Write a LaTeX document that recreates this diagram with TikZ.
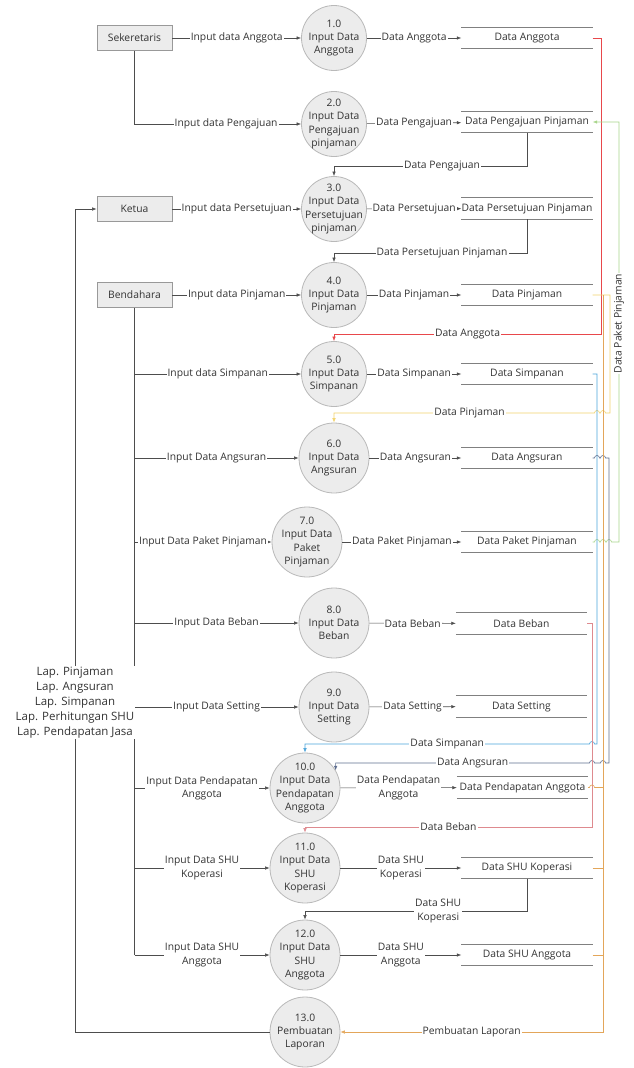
\documentclass[tikz,border=0pt]{standalone}
\usepackage{fontspec}
\setmainfont{Open Sans}
\usetikzlibrary{arrows.meta}

\definecolor{txt}{HTML}{333333}
\definecolor{ln}{HTML}{4D4D4D}
\definecolor{redln}{HTML}{E8474B}
\definecolor{pinkln}{HTML}{DE8A8F}
\definecolor{greenln}{HTML}{A8D58A}
\definecolor{yellowln}{HTML}{F2D36B}
\definecolor{blueln}{HTML}{4BA3D9}
\definecolor{navyln}{HTML}{5E6E8F}
\definecolor{orangeln}{HTML}{E3A65A}

\tikzset{
  entity/.style={draw=gray!80, fill=gray!15, line width=0.8pt, minimum width=75pt, minimum height=25pt, inner sep=0pt},
  proc/.style={circle, draw=gray!55, fill=gray!15, line width=0.8pt, minimum size=65pt, inner sep=-10pt, align=center},
  bigproc/.style={proc, minimum size=70pt},
  store/.style={minimum width=131pt, minimum height=21pt, inner sep=0pt},
  storeline/.style={draw=gray, line width=0.8pt},
  line/.style={draw=ln, line width=0.6pt},
  flow/.style={line, -{Latex[length=4.5pt,width=3.5pt]}},
  lbl/.style={fill=white, inner sep=1pt, align=center, text=txt},
}

\begin{document}
\begin{tikzpicture}[x=1pt, y=-1pt, font=\fontsize{10.3}{13.3}\selectfont, text=txt]
  \useasboundingbox (0,0) rectangle (634,1068);

  % external entities
  \node[entity] (sek) at (134.5,38) {Sekeretaris};
  \node[entity] (ketua) at (134.5,209) {Ketua};
  \node[entity] (bend) at (134.5,295) {Bendahara};

  % processes
  \node[proc] (p1) at (334,38) {1.0\\Input Data\\Anggota};
  \node[proc] (p2) at (334,124) {2.0\\Input Data\\Pengajuan\\pinjaman};
  \node[proc] (p3) at (334,209) {3.0\\Input Data\\Persetujuan\\pinjaman};
  \node[proc] (p4) at (334,295) {4.0\\Input Data\\Pinjaman};
  \node[proc] (p5) at (334,374) {5.0\\Input Data\\Simpanan};
  \node[bigproc] (p6) at (334,458) {6.0\\Input Data\\Angsuran};
  \node[bigproc] (p7) at (307,542) {7.0\\Input Data\\Paket\\Pinjaman};
  \node[bigproc] (p8) at (334,623) {8.0\\Input Data\\Beban};
  \node[bigproc] (p9) at (334,707) {9.0\\Input Data\\Setting};
  \node[bigproc] (p10) at (305,788) {10.0\\Input Data\\Pendapatan\\Anggota};
  \node[bigproc] (p11) at (305,868) {11.0\\Input Data\\SHU\\Koperasi};
  \node[bigproc] (p12) at (305,955) {12.0\\Input Data\\SHU\\Anggota};
  \node[bigproc] (p13) at (305,1032) {13.0\\Pembuatan\\Laporan};

  % data stores
  \node[store] (sa) at (527,38) {Data Anggota};
  \node[store] (sp) at (527,122) {Data Pengajuan Pinjaman};
  \node[store] (sps) at (527,208.5) {Data Persetujuan Pinjaman};
  \node[store] (spj) at (527,295) {Data Pinjaman};
  \node[store] (ssi) at (527,374) {Data Simpanan};
  \node[store] (san) at (527,458) {Data Angsuran};
  \node[store] (spk) at (527,542) {Data Paket Pinjaman};
  \node[store] (sbe) at (521.5,623.5) {Data Beban};
  \node[store] (sse) at (521.5,706.5) {Data Setting};
  \node[store] (spa) at (522.5,787.5) {Data Pendapatan Anggota};
  \node[store] (ssk) at (527,868) {Data SHU Koperasi};
  \node[store] (ssa) at (527,955) {Data SHU Anggota};
  \foreach \st in {sa,sp,sps,spj,ssi,san,spk,sbe,sse,spa,ssk,ssa}
    \draw[storeline] (\st.north west) -- (\st.north east) (\st.south west) -- (\st.south east);

  % sekeretaris and ketua
  \draw[flow] (sek) -- node[lbl]{Input data Anggota} (p1);
  \draw[flow] (p1) -- node[lbl]{Data Anggota} (sa);
  \draw[flow] (sek.south) |- node[lbl,pos=0.775]{Input data Pengajuan} (p2);
  \draw[flow] (p2) -- node[lbl]{Data Pengajuan} (sp);
  \draw[flow] (sp.south) -- (sp.south |- 0,166) -| node[lbl,pos=0.22]{Data Pengajuan} (p3.north);
  \draw[flow] (ketua) -- node[lbl]{Input data Persetujuan} (p3);
  \draw[flow] (p3) -- node[lbl]{Data Persetujuan} (sps);
  \draw[flow] (sps.south) -- (sps.south |- 0,253) -| node[lbl,pos=0.22]{Data Persetujuan Pinjaman} (p4.north);

  % bendahara
  \draw[flow] (bend) -- node[lbl]{Input data Pinjaman} (p4);
  \draw[line] (bend.south) -- (bend.south |- p12);
  \draw[flow] (bend.south |- p5) -- node[lbl]{Input data Simpanan} (p5);
  \draw[flow] (bend.south |- p6) -- node[lbl]{Input Data Angsuran} (p6);
  \draw[flow] (bend.south |- p7) -- node[lbl]{Input Data Paket Pinjaman} (p7);
  \draw[flow] (bend.south |- p8) -- node[lbl]{Input Data Beban} (p8);
  \draw[flow] (bend.south |- p9) -- node[lbl]{Input Data Setting} (p9);
  \draw[flow] (bend.south |- p10) -- node[lbl]{Input Data Pendapatan\\Anggota} (p10);
  \draw[flow] (bend.south |- p11) -- node[lbl]{Input Data SHU\\Koperasi} (p11);
  \draw[flow] (bend.south |- p12) -- node[lbl]{Input Data SHU\\Anggota} (p12);

  \draw[flow] (p4) -- node[lbl]{Data Pinjaman} (spj);
  \draw[flow] (p5) -- node[lbl]{Data Simpanan} (ssi);
  \draw[flow] (p6) -- node[lbl]{Data Angsuran} (san);
  \draw[flow] (p7) -- node[lbl]{Data Paket Pinjaman} (spk);
  \draw[flow] (p8) -- node[lbl]{Data Beban} (sbe);
  \draw[flow] (p9) -- node[lbl]{Data Setting} (sse);
  \draw[flow] (p10) -- node[lbl]{Data Pendapatan\\Anggota} (spa);
  \draw[flow] (p11) -- node[lbl]{Data SHU\\Koperasi} (ssk);
  \draw[flow] (ssk.south) -- (ssk.south |- 0,911) -| node[lbl,pos=0.2]{Data SHU\\Koperasi} (p12.north);
  \draw[flow] (p12) -- node[lbl]{Data SHU\\Anggota} (ssa);

  % flows read back from the stores
  \draw[flow,draw=redln] (sa.east) -- (601,38) -- (601,334) -| node[lbl,pos=0.25]{Data Anggota} (p5.north);
  \draw[flow,draw=yellowln] (spj.east) -- (610,295) -- (610,413) -- (605.5,413)
    arc[start angle=0,end angle=-180,radius=2.5] -- (599.5,413)
    arc[start angle=0,end angle=-180,radius=2.5] -| node[lbl,pos=0.24]{Data Pinjaman} (p6.north);
  \draw[flow,draw=greenln] (spk.east) -- (594.5,542)
    arc[start angle=180,end angle=360,radius=2.5] -- (600.5,542)
    arc[start angle=180,end angle=360,radius=2.5] -- (606.5,542)
    arc[start angle=180,end angle=360,radius=2.5] -- (619,542)
    -- node[lbl,rotate=90,pos=0.52]{Data Paket Pinjaman} (619,122) -- (sp.east);
  \draw[flow,draw=blueln] (ssi.east) -- (597,374) -- (597,744) -- (594.5,744)
    arc[start angle=0,end angle=-180,radius=2.5] -| node[lbl,pos=0.25]{Data Simpanan} (p10.north);
  \draw[flow,draw=navyln] (san.east) -- (594.5,458)
    arc[start angle=180,end angle=360,radius=2.5] -- (600.5,458)
    arc[start angle=180,end angle=360,radius=2.5] -- (609,458) -- (609,763) -- (605.5,763)
    arc[start angle=0,end angle=-180,radius=2.5] -- (594.5,763)
    arc[start angle=0,end angle=-180,radius=2.5] -| node[lbl,pos=0.23]{Data Angsuran} (p10.30);
  \draw[flow,draw=pinkln] (sbe.east) -- (592,623.5) -- (592,827) -| node[lbl,pos=0.25]{Data Beban} (p11.north);

  % laporan
  \coordinate (lapTop) at (603,295);
  \draw[flow,draw=orangeln] (lapTop) -- (lapTop |- p13) -- node[lbl]{Pembuatan Laporan} (p13);
  \draw[line,draw=orangeln] (spa.east) -- (589.5,787.5)
    arc[start angle=180,end angle=360,radius=2.5] -- (spa.east -| lapTop);
  \draw[line,draw=orangeln] (ssk.east) -- (ssk.east -| lapTop);
  \draw[line,draw=orangeln] (ssa.east) -- (ssa.east -| lapTop);
  \draw[flow] (p13.west) -| node[lbl,pos=0.70,font=\fontsize{11.5}{15}\selectfont]{Lap. Pinjaman\\Lap. Angsuran\\Lap. Simpanan\\Lap. Perhitungan SHU\\Lap. Pendapatan Jasa} (ketua.west -| 75,0) -- (ketua.west);
\end{tikzpicture}
\end{document}
